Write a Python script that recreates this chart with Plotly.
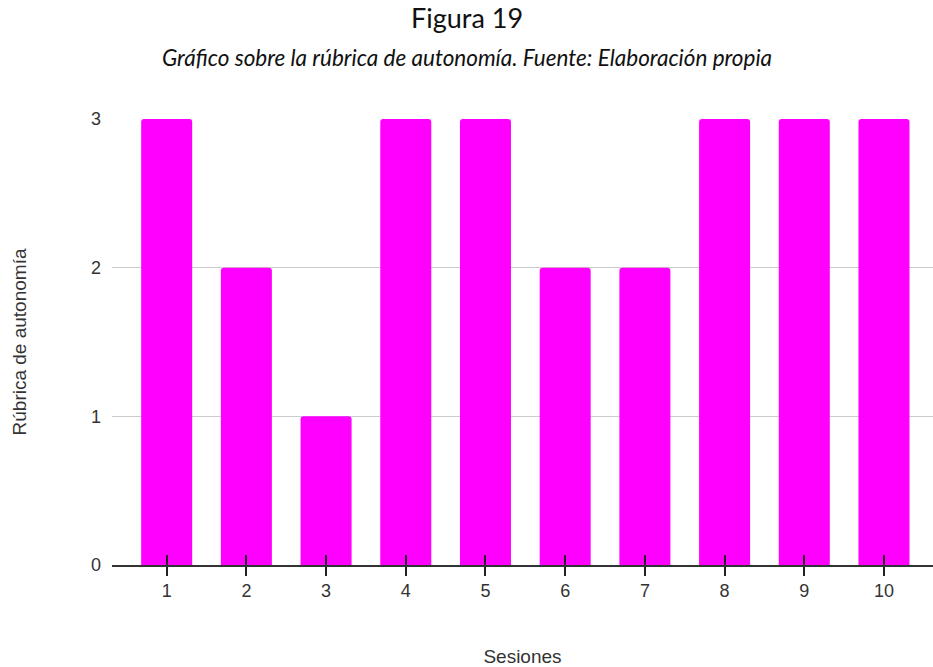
import plotly.graph_objects as go

# Sessions and autonomy-rubric scores
sesiones = [1, 2, 3, 4, 5, 6, 7, 8, 9, 10]
rubrica = [3, 2, 1, 3, 3, 2, 2, 3, 3, 3]
y_ticks = [0, 1, 2, 3]

titulo = "Figura 19"
subtitulo = "Gráfico sobre la rúbrica de autonomía. Fuente: Elaboración propia"

x_range = [0.314, 10.615]
axis_font = dict(family="Liberation Sans, Arial, sans-serif", size=18, color="#333333")
axis_title_font = dict(family="Liberation Sans, Arial, sans-serif", size=19, color="#333333")

fig = go.Figure()
fig.add_trace(go.Bar(
    x=sesiones,
    y=rubrica,
    width=0.64,
    marker=dict(color="#ff00ff", line=dict(width=0)),
    hoverinfo="x+y",
))

# Invisible helper trace so the overlay axis gets drawn
fig.add_trace(go.Scatter(x=[None], y=[None], xaxis="x2", yaxis="y",
                         showlegend=False, hoverinfo="skip"))

fig.update_layout(
    width=933,
    height=667,
    paper_bgcolor="white",
    plot_bgcolor="white",
    showlegend=False,
    barcornerradius=3,
    margin=dict(l=112, r=0, t=119, b=102),
    xaxis=dict(
        range=x_range,
        tickvals=sesiones,
        ticktext=[str(s) for s in sesiones],
        ticks="outside",
        ticklen=9,
        tickwidth=1.5,
        tickcolor="#222222",
        showline=True,
        linecolor="#333333",
        linewidth=1.5,
        showgrid=False,
        zeroline=False,
        tickfont=axis_font,
        title=dict(text="Sesiones", font=axis_title_font, standoff=51),
    ),
    # Overlay axis that adds the inward half of each tick mark
    xaxis2=dict(
        range=x_range,
        overlaying="x",
        anchor="y",
        side="bottom",
        tickvals=sesiones,
        ticks="inside",
        ticklen=10,
        tickwidth=1.5,
        tickcolor="#222222",
        showticklabels=False,
        showgrid=False,
        zeroline=False,
        showline=False,
    ),
    yaxis=dict(
        range=[0, 3],
        tickvals=y_ticks,
        showgrid=True,
        gridcolor="#cccccc",
        gridwidth=1,
        zeroline=False,
        showline=False,
        ticks="",
        ticklabelstandoff=10,
        tickfont=axis_font,
        title=dict(text="Rúbrica de autonomía", font=axis_title_font, standoff=59),
    ),
)

# Titles centred on the full page width
fig.add_annotation(
    text=titulo, xref="paper", yref="paper",
    x=(466.5 - 112) / 821, y=1 + (119 - 17) / 446,
    xanchor="center", yanchor="middle", showarrow=False,
    font=dict(family="Lato", size=27, color="#111111"),
)
fig.add_annotation(
    text="<i>" + subtitulo + "</i>", xref="paper", yref="paper",
    x=(466.5 - 112) / 821, y=1 + (119 - 57) / 446,
    xanchor="center", yanchor="middle", showarrow=False,
    font=dict(family="Lato", size=22.5, color="#111111"),
)

fig.write_html("out.html")
